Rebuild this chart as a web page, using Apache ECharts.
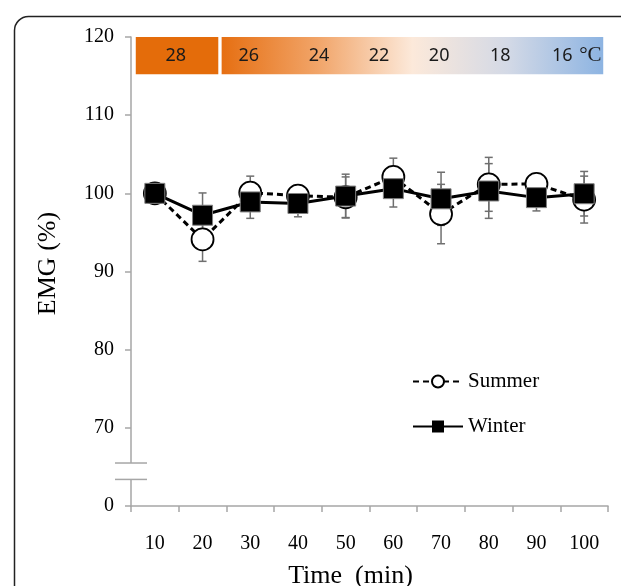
<!DOCTYPE html>
<html>
<head>
<meta charset="utf-8">
<script src="https://cdn.jsdelivr.net/npm/echarts@6/dist/echarts.min.js"></script>
<style>
  html, body { margin: 0; padding: 0; background: #fff; }
  #chart { width: 621px; height: 586px; }
</style>
</head>
<body>
<div id="chart"></div>
<script>
// time points (min)
var times = ['10', '20', '30', '40', '50', '60', '70', '80', '90', '100'];
// EMG (%) means
var summer = [100, 94.1, 100.1, 99.7, 99.5, 102.1, 97.35, 101.15, 101.2, 99.2];
var winter = [100, 97.2, 98.9, 98.7, 99.65, 100.6, 99.3, 100.3, 99.45, 99.95];
// error bars
var summerSd = [0, 2.8, 2.1, 1.3, 2.6, 2.4, 3.8, 3.45, 1.0, 3.0];
var winterSd = [0, 2.85, 2.1, 1.7, 2.8, 2.35, 3.4, 3.5, 1.7, 2.85];
// y ticks: 60 on the scale is shown as 0 (axis break)
var yTicks = { 60: '0' };
var breakMarks = [63.4, 65.5];
// temperature bar (x in category units, y in % units)
var bandRanges = [[0.1, 1.83], [1.9, 9.9]];
var bandLevels = [115.25, 120];
var tempLabels = ['28', '26', '24', '22', '20', '18', '16', '°C'];
var tempPos = [0.94, 2.47, 3.94, 5.2, 6.46, 7.74, 9.04, 9.63];

var chart = echarts.init(document.getElementById('chart'));
var serif = 'Liberation Serif';

// error bars drawn under the markers
function errorSeries(name, means, sds) {
  var d = [];
  for (var i = 0; i < means.length; i++) {
    d.push([i, means[i] - sds[i], means[i] + sds[i]]);
  }
  return {
    type: 'custom',
    name: name + ' sd',
    z: 1,
    silent: true,
    data: d,
    renderItem: function(params, api) {
      var lo = api.coord([api.value(0), api.value(1)]);
      var hi = api.coord([api.value(0), api.value(2)]);
      if (hi[1] === lo[1]) return;
      var w = 4;
      var st = { stroke: '#6f6f6f', lineWidth: 1.5 };
      return {
        type: 'group',
        children: [
          { type: 'line', shape: { x1: lo[0], y1: lo[1], x2: hi[0], y2: hi[1] }, style: st },
          { type: 'line', shape: { x1: lo[0] - w, y1: lo[1], x2: lo[0] + w, y2: lo[1] }, style: st },
          { type: 'line', shape: { x1: hi[0] - w, y1: hi[1], x2: hi[0] + w, y2: hi[1] }, style: st }
        ]
      };
    }
  };
}

var option = {
  animation: false,
  grid: { left: 131, right: 13, top: 37, bottom: 80, outerBoundsMode: 'none' },
  graphic: [{
    type: 'rect',
    left: 12,
    top: 14,
    shape: { width: 660, height: 640, r: 14 },
    style: { fill: 'none', stroke: '#222', lineWidth: 1.5 }
  }],
  legend: {
    orient: 'vertical',
    left: 407,
    top: 366,
    itemWidth: 50,
    itemHeight: 15,
    itemGap: 24,
    data: [
      { name: 'Summer' },
      { name: 'Winter', itemStyle: { borderWidth: 0 } }
    ],
    textStyle: { fontFamily: serif, fontSize: 21, color: '#000' }
  },
  xAxis: [{
    type: 'category',
    data: times,
    boundaryGap: true,
    name: 'Time  (min)',
    nameLocation: 'middle',
    nameGap: 57,
    nameTextStyle: { fontFamily: serif, fontSize: 26, color: '#000', padding: [0, 38, 0, 0] },
    axisLine: { lineStyle: { color: '#a6a6a6', width: 1.5 } },
    axisTick: { show: true, alignWithLabel: false, length: 6, lineStyle: { color: '#a6a6a6', width: 1.5 } },
    axisLabel: { fontFamily: serif, fontSize: 20, color: '#000', margin: 28 },
    splitLine: { show: false }
  }, {
    type: 'value',
    min: 0,
    max: 10,
    show: false
  }],
  yAxis: {
    type: 'value',
    min: 60,
    max: 120,
    interval: 10,
    name: 'EMG (%)',
    nameLocation: 'middle',
    nameGap: 70,
    nameTextStyle: { fontFamily: serif, fontSize: 26, color: '#000', padding: [0, 0, 0, 16] },
    axisLine: { show: true, lineStyle: { color: '#a6a6a6', width: 1.5 } },
    axisTick: { show: true, length: 6, lineStyle: { color: '#a6a6a6', width: 1.5 } },
    axisLabel: {
      fontFamily: serif, fontSize: 20, color: '#000', margin: 17,
      formatter: function(v) { return yTicks[v] !== undefined ? yTicks[v] : v; }
    },
    splitLine: { show: false }
  },
  series: [
    errorSeries('Summer', summer, summerSd),
    errorSeries('Winter', winter, winterSd),
    {
      name: 'Summer',
      type: 'line',
      z: 3,
      data: summer,
      symbol: 'circle',
      symbolSize: 22,
      lineStyle: { color: '#000', width: 3, type: [6, 4] },
      itemStyle: { color: '#fff', borderColor: '#000', borderWidth: 1.8 }
    },
    {
      name: 'Winter',
      type: 'line',
      z: 4,
      data: winter,
      symbol: 'rect',
      symbolSize: 20,
      lineStyle: { color: '#000', width: 3 },
      itemStyle: { color: '#000', borderColor: '#808080', borderWidth: 1 }
    },
    {
      // temperature colour band
      type: 'custom',
      xAxisIndex: 1,
      z: 5,
      silent: true,
      data: bandRanges,
      renderItem: function(params, api) {
        var p0 = api.coord([api.value(0), bandLevels[1]]);
        var p1 = api.coord([api.value(1), bandLevels[0]]);
        var fill = params.dataIndex === 0 ? '#e46c0a' : new echarts.graphic.LinearGradient(0, 0, 1, 0, [
          { offset: 0, color: '#e66f12' },
          { offset: 0.25, color: '#f1a468' },
          { offset: 0.5, color: '#fce9da' },
          { offset: 0.75, color: '#d3d9e6' },
          { offset: 1, color: '#8db4e2' }
        ]);
        return {
          type: 'rect',
          shape: { x: p0[0], y: p0[1], width: p1[0] - p0[0], height: p1[1] - p0[1] },
          style: { fill: fill }
        };
      }
    },
    {
      // temperature labels
      type: 'custom',
      xAxisIndex: 1,
      z: 6,
      silent: true,
      data: tempPos.map(function(p) { return [p, (bandLevels[0] + bandLevels[1]) / 2]; }),
      renderItem: function(params, api) {
        var p = api.coord([api.value(0), api.value(1)]);
        var isUnit = params.dataIndex === tempLabels.length - 1;
        return {
          type: 'text',
          x: p[0],
          y: p[1],
          style: {
            text: tempLabels[params.dataIndex],
            fill: '#1a1a1a',
            font: isUnit ? '21px "Liberation Serif"' : '18px "Noto Sans"',
            align: 'center',
            verticalAlign: 'middle'
          }
        };
      }
    },
    {
      // axis break marks
      type: 'custom',
      xAxisIndex: 1,
      z: 6,
      silent: true,
      data: [[0, breakMarks[0], breakMarks[1]]],
      renderItem: function(params, api) {
        var a = api.coord([0, api.value(1)]);
        var b = api.coord([0, api.value(2)]);
        var st = { stroke: '#a6a6a6', lineWidth: 1.5 };
        return {
          type: 'group',
          children: [
            { type: 'rect', shape: { x: a[0] - 3, y: b[1], width: 6, height: a[1] - b[1] }, style: { fill: '#fff' } },
            { type: 'line', shape: { x1: a[0] - 16, y1: a[1], x2: a[0] + 16, y2: a[1] }, style: st },
            { type: 'line', shape: { x1: b[0] - 16, y1: b[1], x2: b[0] + 16, y2: b[1] }, style: st }
          ]
        };
      }
    }
  ]
};

chart.setOption(option);
</script>
</body>
</html>
